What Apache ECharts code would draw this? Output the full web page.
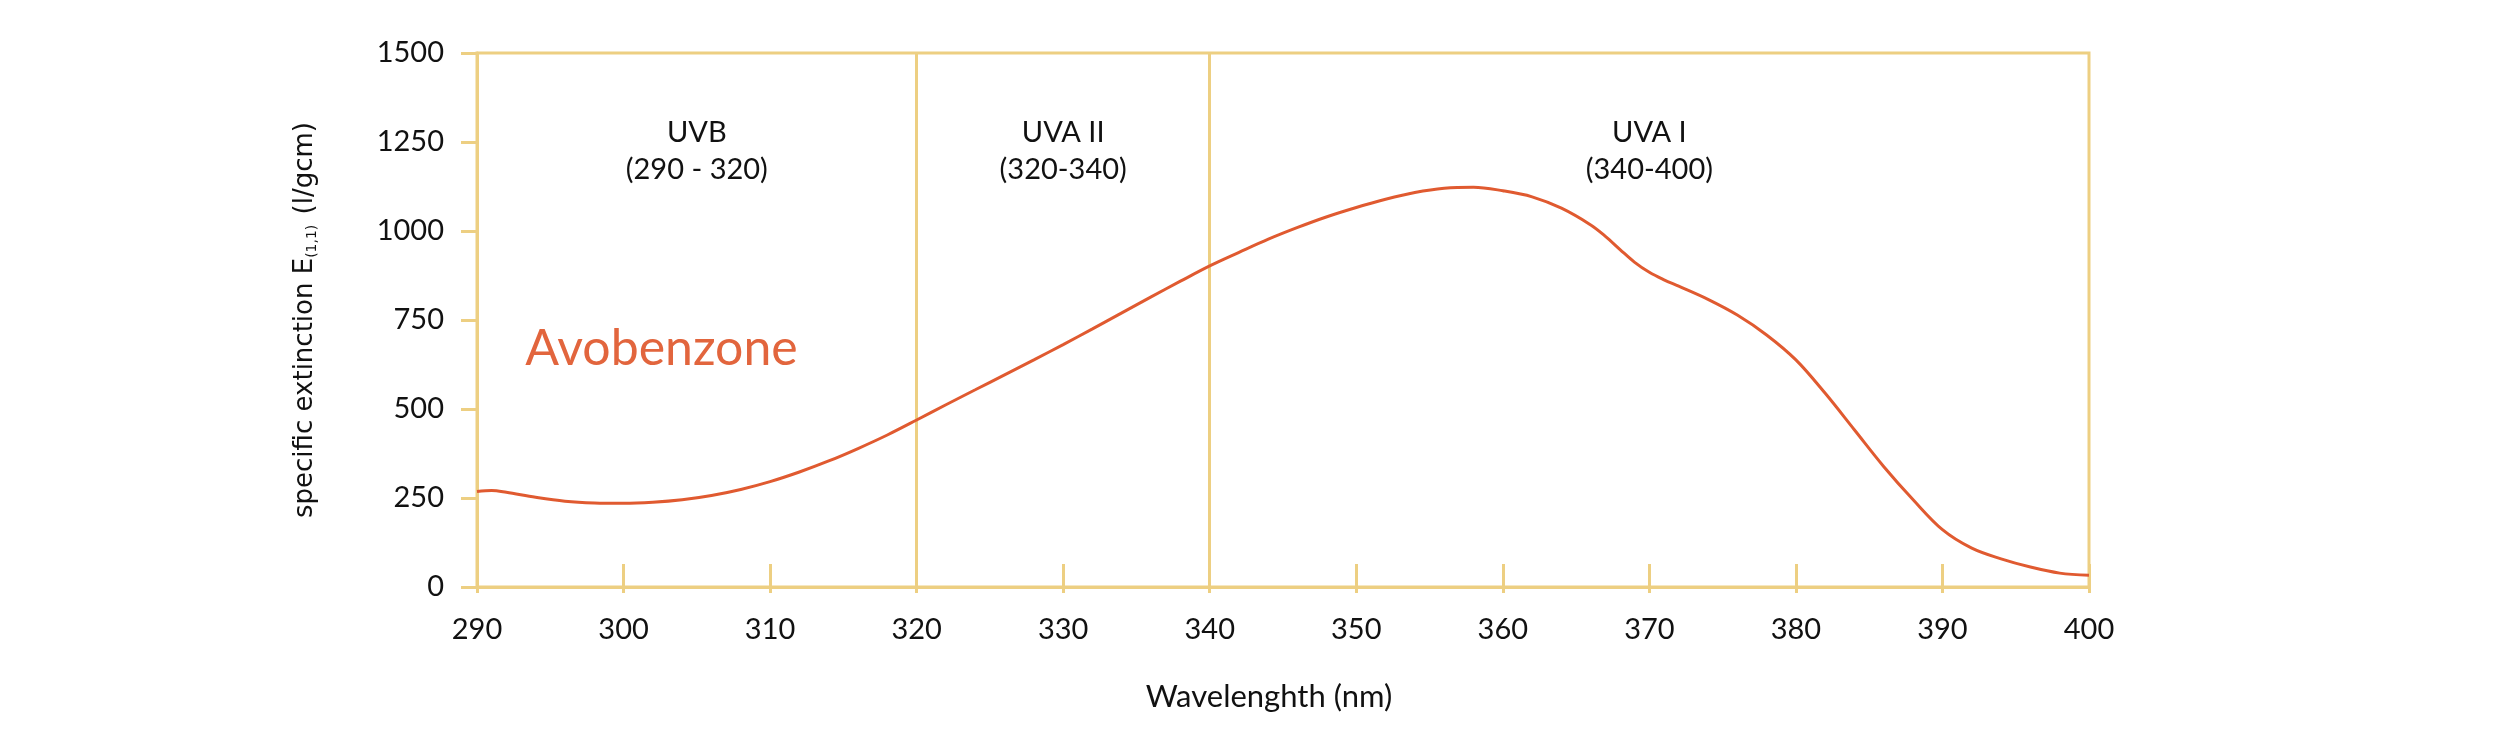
<!DOCTYPE html>
<html>
<head>
<meta charset="utf-8">
<title>Avobenzone extinction</title>
<script src="https://cdn.jsdelivr.net/npm/echarts@6/dist/echarts.min.js"></script>
<style>
  html, body { margin: 0; padding: 0; background: #fff; }
  #main { width: 2500px; height: 734px; }
</style>
</head>
<body>
<div id="main"></div>
<script>
// wavelength (nm)
const wavelengths = [290, 291, 292, 294, 296, 298, 300, 302, 304, 306, 308, 310, 312, 314, 316, 318, 320,
  322, 324, 326, 328, 330, 332, 334, 336, 338, 340, 342, 344, 346, 348, 350, 352, 354, 356, 358, 360,
  362, 364, 366, 367, 368, 369, 370, 371, 372, 374, 376, 378, 380, 382, 384, 386, 388, 390, 392, 394, 396, 398, 400];
// specific extinction E(1,1) (l/gcm)
const extinction = [268, 271, 266, 252, 241, 236, 235, 238, 245, 257, 274, 296, 323, 354, 389, 427, 469,
  512, 554, 596, 638, 681, 725, 770, 815, 859, 902, 940, 977, 1010, 1040, 1066, 1089, 1108, 1120, 1123, 1113,
  1096, 1064, 1017, 985, 948, 912, 884, 863, 845, 808, 764, 708, 638, 544, 441, 338, 245, 161, 109, 79, 56, 39, 33];

// UV bands
const bandEdges = [290, 320, 340, 400];
const bandNames = ['UVB', 'UVA II', 'UVA I'];
const bandRanges = ['(290 - 320)', '(320-340)', '(340-400)'];

const seriesName = 'Avobenzone';

const gold = '#EDCF82';
const orange = '#E05A30';
const font = 'Lato';

const lineData = wavelengths.map((w, i) => [w, extinction[i]]);

// band labels sit in the middle of each band
const bandLabels = bandNames.map((n, i) => ({
  coord: [(bandEdges[i] + bandEdges[i + 1]) / 2, 1224],
  value: n + '\n' + bandRanges[i]
}));

const chart = echarts.init(document.getElementById('main'));
chart.setOption({
  animation: false,
  backgroundColor: '#fff',
  grid: {
    left: 477, right: 411, top: 53, bottom: 147,
    containLabel: false,
    show: true,
    borderColor: gold,
    borderWidth: 3,
    backgroundColor: 'transparent'
  },
  xAxis: [
    {
      type: 'value',
      min: 290, max: 400, interval: 10,
      position: 'bottom',
      name: 'Wavelenghth (nm)',
      nameLocation: 'middle',
      nameGap: 94,
      nameTextStyle: { fontFamily: font, fontSize: 31, color: '#111', padding: [0, 28, 0, 0] },
      axisLine: { show: true, onZero: false, lineStyle: { color: gold, width: 3 } },
      axisTick: { show: true, inside: true, length: 23, lineStyle: { color: gold, width: 3 } },
      axisLabel: { fontFamily: font, fontSize: 29, color: '#111', margin: 28 },
      splitLine: { show: false }
    },
    {
      type: 'value',
      min: 290, max: 400, interval: 10,
      position: 'bottom',
      axisLine: { show: false },
      axisTick: { show: true, inside: false, length: 6, lineStyle: { color: gold, width: 3 } },
      axisLabel: { show: false },
      splitLine: { show: false }
    }
  ],
  yAxis: {
    type: 'value',
    min: 0, max: 1500, interval: 250,
    name: 'specific extinction E{sub|(1,1)} (l/gcm)',
    nameLocation: 'middle',
    nameGap: 158,
    nameTextStyle: {
      fontFamily: 'DejaVu Sans', fontSize: 26, color: '#111',
      rich: { sub: { fontFamily: 'DejaVu Sans', fontSize: 14, color: '#111', verticalAlign: 'bottom', padding: [14, 2, 0, 0] } }
    },
    axisLine: { show: true, onZero: false, lineStyle: { color: gold, width: 3 } },
    axisTick: { show: true, inside: false, length: 16, lineStyle: { color: gold, width: 3 } },
    axisLabel: { fontFamily: font, fontSize: 29, color: '#111', margin: 33, formatter: v => String(v) },
    splitLine: { show: false }
  },
  series: [
    {
      name: seriesName,
      type: 'line',
      data: lineData,
      smooth: 0.35,
      showSymbol: false,
      symbol: 'none',
      lineStyle: { color: orange, width: 3 },
      z: 3,
      markLine: {
        silent: true,
        symbol: ['none', 'none'],
        label: { show: false },
        lineStyle: { color: gold, width: 3, type: 'solid' },
        data: bandEdges.slice(1, 3).map(v => ({ xAxis: v })),
        z: 1
      },
      markPoint: {
        silent: true,
        symbol: 'circle',
        symbolSize: 0,
        label: {
          show: true,
          formatter: p => p.value,
          fontFamily: font,
          fontSize: 29,
          lineHeight: 37,
          color: '#111',
          align: 'center',
          verticalAlign: 'middle'
        },
        data: bandLabels.concat([{
          coord: [293.3, 670],
          value: seriesName,
          label: { fontSize: 50, color: '#E2653D', align: 'left', lineHeight: 56 }
        }])
      }
    }
  ]
});
</script>
</body>
</html>
